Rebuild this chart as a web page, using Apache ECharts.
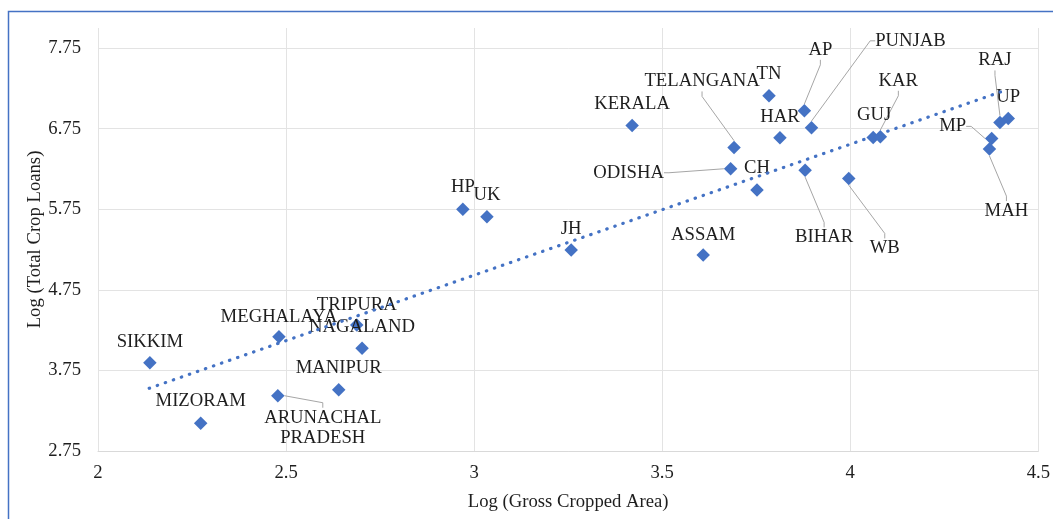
<!DOCTYPE html>
<html>
<head>
<meta charset="utf-8">
<script src="https://cdn.jsdelivr.net/npm/echarts@6/dist/echarts.min.js"></script>
<style>
html,body{margin:0;padding:0;background:#fff;}
#chart{width:1053px;height:519px;}
</style>
</head>
<body>
<div id="chart"></div>
<script>
// ---- data ----
const states = ['SIKKIM','MIZORAM','MEGHALAYA','ARUNACHAL\nPRADESH','MANIPUR','TRIPURA','NAGALAND','HP','UK','JH','KERALA','ASSAM','TELANGANA','ODISHA','CH','TN','HAR','AP','PUNJAB','BIHAR','WB','GUJ','KAR','MP','MAH','RAJ','UP'];
const logGrossCroppedArea = [2.138,2.273,2.481,2.478,2.640,2.688,2.702,2.970,3.034,3.258,3.420,3.609,3.691,3.682,3.752,3.784,3.813,3.878,3.897,3.880,3.996,4.061,4.080,4.376,4.370,4.398,4.420];
const logTotalCropLoans = [3.845,3.094,4.168,3.436,3.511,4.313,4.024,5.749,5.657,5.244,6.791,5.182,6.518,6.253,5.988,7.158,6.637,6.972,6.761,6.233,6.133,6.642,6.650,6.630,6.497,6.828,6.878];
// linear trendline endpoints
const trendX = [2.136, 4.419];
const trendY = [3.528, 7.238];
const xTicks = [2, 2.5, 3, 3.5, 4, 4.5];
const yTicks = [2.75, 3.75, 4.75, 5.75, 6.75, 7.75];

// ---- label placement (styling) : [dx, dy, leaderLine, padding] ----
const labelPlacement = {
  'SIKKIM':[0,-21,false], 'MIZORAM':[0,-22,false], 'MEGHALAYA':[0,-20,false],
  'ARUNACHAL\nPRADESH':[45,32,true,[0,40,0,40]], 'MANIPUR':[0,-22,false], 'TRIPURA':[0,-20,false],
  'NAGALAND':[0,-21,false], 'HP':[0,-22,false], 'UK':[0,-22,false], 'JH':[0,-21,false],
  'KERALA':[0,-21,false], 'ASSAM':[0,-20,false], 'TELANGANA':[-32,-66,true],
  'ODISHA':[-102,4,true], 'CH':[0,-22,false], 'TN':[0,-22,false], 'HAR':[0,-21,false],
  'AP':[16,-61,true], 'PUNJAB':[99,-87,true], 'BIHAR':[19,67,true], 'WB':[36,70,true],
  'GUJ':[1,-22,false], 'KAR':[18,-56,true], 'MP':[-39,-12,true], 'MAH':[17,62,true],
  'RAJ':[-5,-62,true], 'UP':[0,-21,false]
};

const FONT = '"Liberation Serif", "Times New Roman", serif';
const BLUE = '#4472C4';
const TEXT = '#1e1e1e';
const FS = 18.7;

const scatterData = states.map((s, i) => {
  const p = labelPlacement[s];
  const item = {
    name: s,
    value: [logGrossCroppedArea[i], logTotalCropLoans[i]],
    labelLine: { show: p[2] }
  };
  if (p[3]) item.label = { padding: p[3] };
  return item;
});
const trendData = trendX.map((x, i) => [x, trendY[i]]);

const chart = echarts.init(document.getElementById('chart'), null, {renderer: 'canvas'});
chart.setOption({
  animation: false,
  backgroundColor: '#fff',
  textStyle: { fontFamily: FONT },
  graphic: [{
    type: 'rect', silent: true, z: 100,
    shape: { x: 8.5, y: 11.5, width: 1200, height: 700 },
    style: { fill: null, stroke: BLUE, lineWidth: 1.5 }
  }],
  grid: { left: 98, right: 13, top: 28, bottom: 68, containLabel: false },
  xAxis: {
    type: 'value', min: xTicks[0], max: xTicks[xTicks.length - 1], interval: 0.5,
    name: 'Log (Gross Cropped Area)', nameLocation: 'middle', nameGap: 42,
    nameTextStyle: { fontFamily: FONT, fontSize: FS, color: TEXT },
    axisLine: { show: true, lineStyle: { color: '#d9d9d9', width: 1 } },
    axisTick: { show: false },
    axisLabel: { fontFamily: FONT, fontSize: FS, color: TEXT, margin: 13,
      formatter: v => String(v) },
    splitLine: { show: true, lineStyle: { color: '#e3e3e3', width: 1 } }
  },
  yAxis: {
    type: 'value', min: yTicks[0], max: 8, interval: 1,
    name: 'Log (Total Crop Loans)', nameLocation: 'middle', nameGap: 53, nameRotate: 90,
    nameMoveOverlap: false,
    nameTextStyle: { fontFamily: FONT, fontSize: FS, color: TEXT },
    axisLine: { show: false },
    axisTick: { show: false },
    axisLabel: { fontFamily: FONT, fontSize: FS, color: TEXT, margin: 17,
      showMaxLabel: false,
      formatter: v => (yTicks.some(t => Math.abs(t - v) < 1e-6) ? v.toFixed(2) : '') },
    splitLine: { show: true, showMaxLine: false, lineStyle: { color: '#e3e3e3', width: 1 } }
  },
  series: [
    {
      type: 'line',
      data: trendData,
      showSymbol: false,
      symbol: 'none',
      z: 3,
      lineStyle: { color: BLUE, width: 3.2, type: [0.5, 8], cap: 'round' }
    },
    {
      type: 'scatter',
      data: scatterData,
      symbol: 'diamond',
      symbolSize: 13.5,
      z: 2,
      itemStyle: { color: BLUE, opacity: 1 },
      label: {
        show: true, position: 'inside', formatter: p => p.name,
        fontFamily: FONT, fontSize: FS, color: TEXT, lineHeight: 20, align: 'center'
      },
      labelLine: { show: false, length2: 5, lineStyle: { color: '#a6a6a6', width: 1 } },
      labelLayout: params => {
        const p = labelPlacement[states[params.dataIndex]];
        return { dx: p[0], dy: p[1] };
      },
      emphasis: { disabled: true }
    }
  ]
});
</script>
</body>
</html>
